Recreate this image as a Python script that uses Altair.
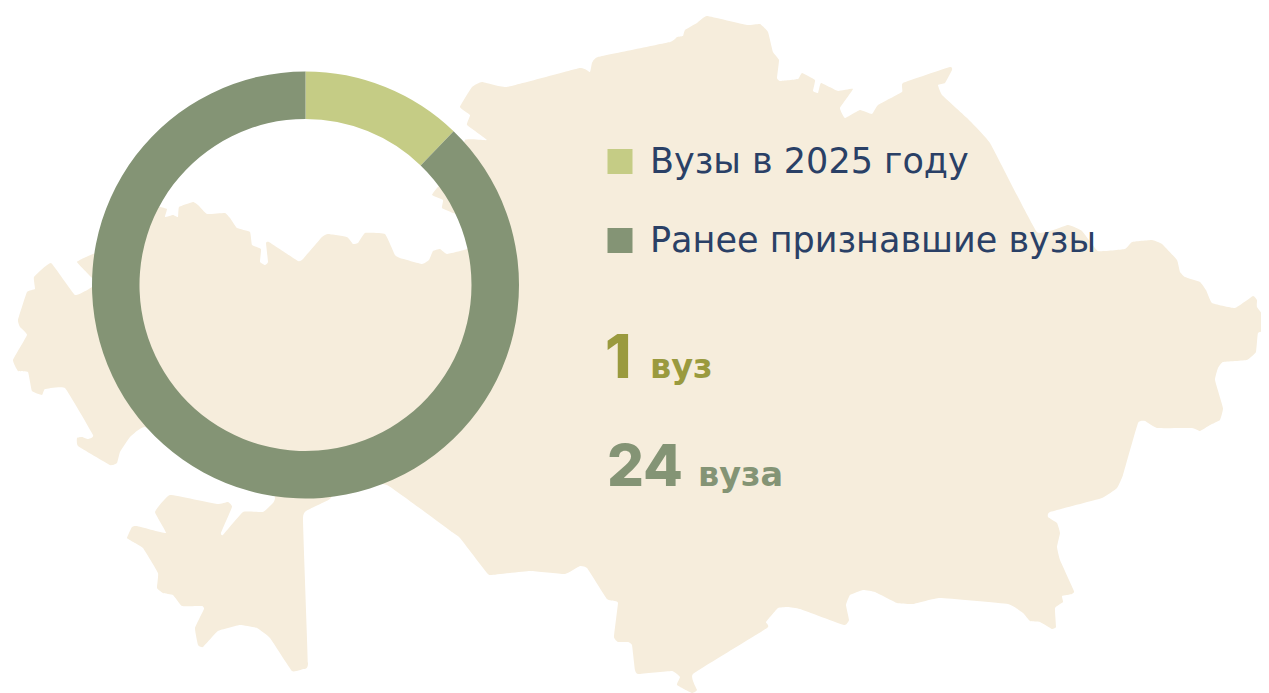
import altair as alt
import pandas as pd

# --- donut ---
categories = ["Вузы в 2025 году", "Ранее признавшие вузы"]
shares = [12.2, 87.8]
colors = ["#C5CC85", "#849475"]
big_numbers = ["1", "24"]
units = ["вуз", "вуза"]

# --- silhouette outline ---
map_x = [487,467,470,460,472,482,507,580,590,592,598,670,677,683,685,697,707,747,760,768,773,779,777,780,798,802,815,813,818,821,838,853,840,845,860,872,878,902,903,950,952,945,938,942,967,990,1037,1068,1082,1098,1125,1132,1152,1162,1177,1180,1185,1200,1206,1212,1235,1253,1257,1257,1268,1268,1258,1256,1247,1223,1218,1215,1223,1220,1210,1200,1192,1157,1145,1138,1123,1117,1102,1050,1048,1057,1060,1057,1060,1074,1072,1062,1063,1055,1056,1052,1040,1030,1023,1008,940,913,897,875,863,850,846,849,844,800,788,778,766,767,693,697,692,677,680,672,638,635,632,628,618,614,618,615,607,587,580,565,530,491,487,460,452,387,345,330,310,303,308,303,292,270,257,240,218,203,198,195,204,202,182,173,163,157,158,143,135,127,132,137,166,155,170,217,228,232,221,223,243,263,273,275,270,200,145,130,120,117,110,78,77,82,88,93,65,45,42,32,28,18,13,27,20,18,27,35,34,51,75,92,92,77,93,130,155,160,167,165,173,178,179,193,198,207,225,230,237,250,252,261,260,265,268,266,269,298,303,322,328,347,353,358,365,385,395,400,422,429,433,440,447,467,485,470,453,442,443,432,438,455,465]
map_y = [140,125,115,107,87,82,87,68,72,63,57,42,37,36,30,23,16,25,24,32,52,60,78,81,79,73,80,91,93,83,91,89,108,118,110,114,105,92,83,67,70,83,85,95,118,143,232,225,231,251,249,242,240,244,260,272,277,282,290,303,308,296,300,307,322,330,333,352,360,362,368,380,408,420,425,431,428,428,421,423,475,488,498,512,517,523,533,547,560,591,594,596,602,608,627,629,622,621,613,604,598,604,603,592,590,595,605,620,625,609,607,608,622,628,674,690,693,685,677,671,674,670,645,642,642,637,603,601,599,568,566,574,571,575,573,538,532,485,480,499,509,518,663,669,671,638,628,625,631,647,645,628,609,606,606,595,593,588,573,548,543,538,527,526,533,512,495,504,502,507,533,535,512,512,503,498,480,460,427,437,452,463,465,446,438,437,439,435,388,389,395,391,372,371,360,335,327,320,292,289,277,263,295,287,278,262,254,240,207,207,209,217,215,217,207,202,205,214,213,218,228,232,245,249,262,265,262,243,242,261,259,237,234,237,244,243,233,234,255,258,264,260,251,249,254,249,235,218,213,208,200,195,187,175,140]
outline = pd.DataFrame({"x": map_x, "y": map_y, "i": range(len(map_x))})

donut = pd.DataFrame({"category": categories, "share": shares, "i": [0, 1]})
x_scale = alt.Scale(domain=[8, 1261], range=[0, 1253])
y_scale = alt.Scale(domain=[8, 693], range=[0, 685])
X = lambda v: alt.X(datum=v, scale=x_scale, axis=None)
Y = lambda v: alt.Y(datum=v, scale=y_scale, axis=None)
FONT = "DejaVu Sans"
NUM_FONT = "Inter"

land = alt.Chart(outline).mark_line(
    fill="#F6EDDC", stroke="#F6EDDC", strokeWidth=0, interpolate="cardinal-closed", tension=0.7
).encode(
    x=alt.X("x:Q", scale=x_scale, axis=None),
    y=alt.Y("y:Q", scale=y_scale, axis=None),
    order="i:Q",
)

ring = alt.Chart(donut).mark_arc(radius=213.5, radius2=166).encode(
    x=X(305.5), y=Y(285),
    theta=alt.Theta("share:Q", stack=True),
    order="i:Q",
    color=alt.Color(
        "category:N",
        scale=alt.Scale(domain=categories, range=colors),
        sort=categories,
        legend=alt.Legend(
            title=None, orient="none", legendX=594.5, legendY=136,
            symbolType="square", symbolSize=625, symbolStrokeWidth=0, symbolOpacity=1,
            labelFont=FONT, labelFontSize=35, labelFontWeight=400, labelColor="#2A4066",
            labelOffset=12.5, rowPadding=43, labelLimit=600,
        ),
    ),
)

def word(text, px, py, size, color, font, weight=700):
    return alt.Chart(pd.DataFrame({"t": [text]})).mark_text(
        font=font, fontSize=size, fontWeight=weight, color=color, align="left", baseline="alphabetic"
    ).encode(x=X(px), y=Y(py), text="t:N")

chart = alt.layer(
    land, ring,
    word(big_numbers[0], 605, 378, 60, "#9A9A3E", NUM_FONT, 800),
    word(units[0], 650, 378, 33.5, "#9A9A3E", FONT),
    word(big_numbers[1], 607, 486, 58, "#849475", NUM_FONT, 800),
    word(units[1], 698, 486, 33.5, "#849475", FONT),
).resolve_scale(theta="independent").properties(
    width=1253, height=685, padding=0, background="white",
    autosize=alt.AutoSizeParams(type="none"),
).configure_view(stroke=None)

chart.save("out.html", embed_options={"renderer": "svg", "actions": False})
